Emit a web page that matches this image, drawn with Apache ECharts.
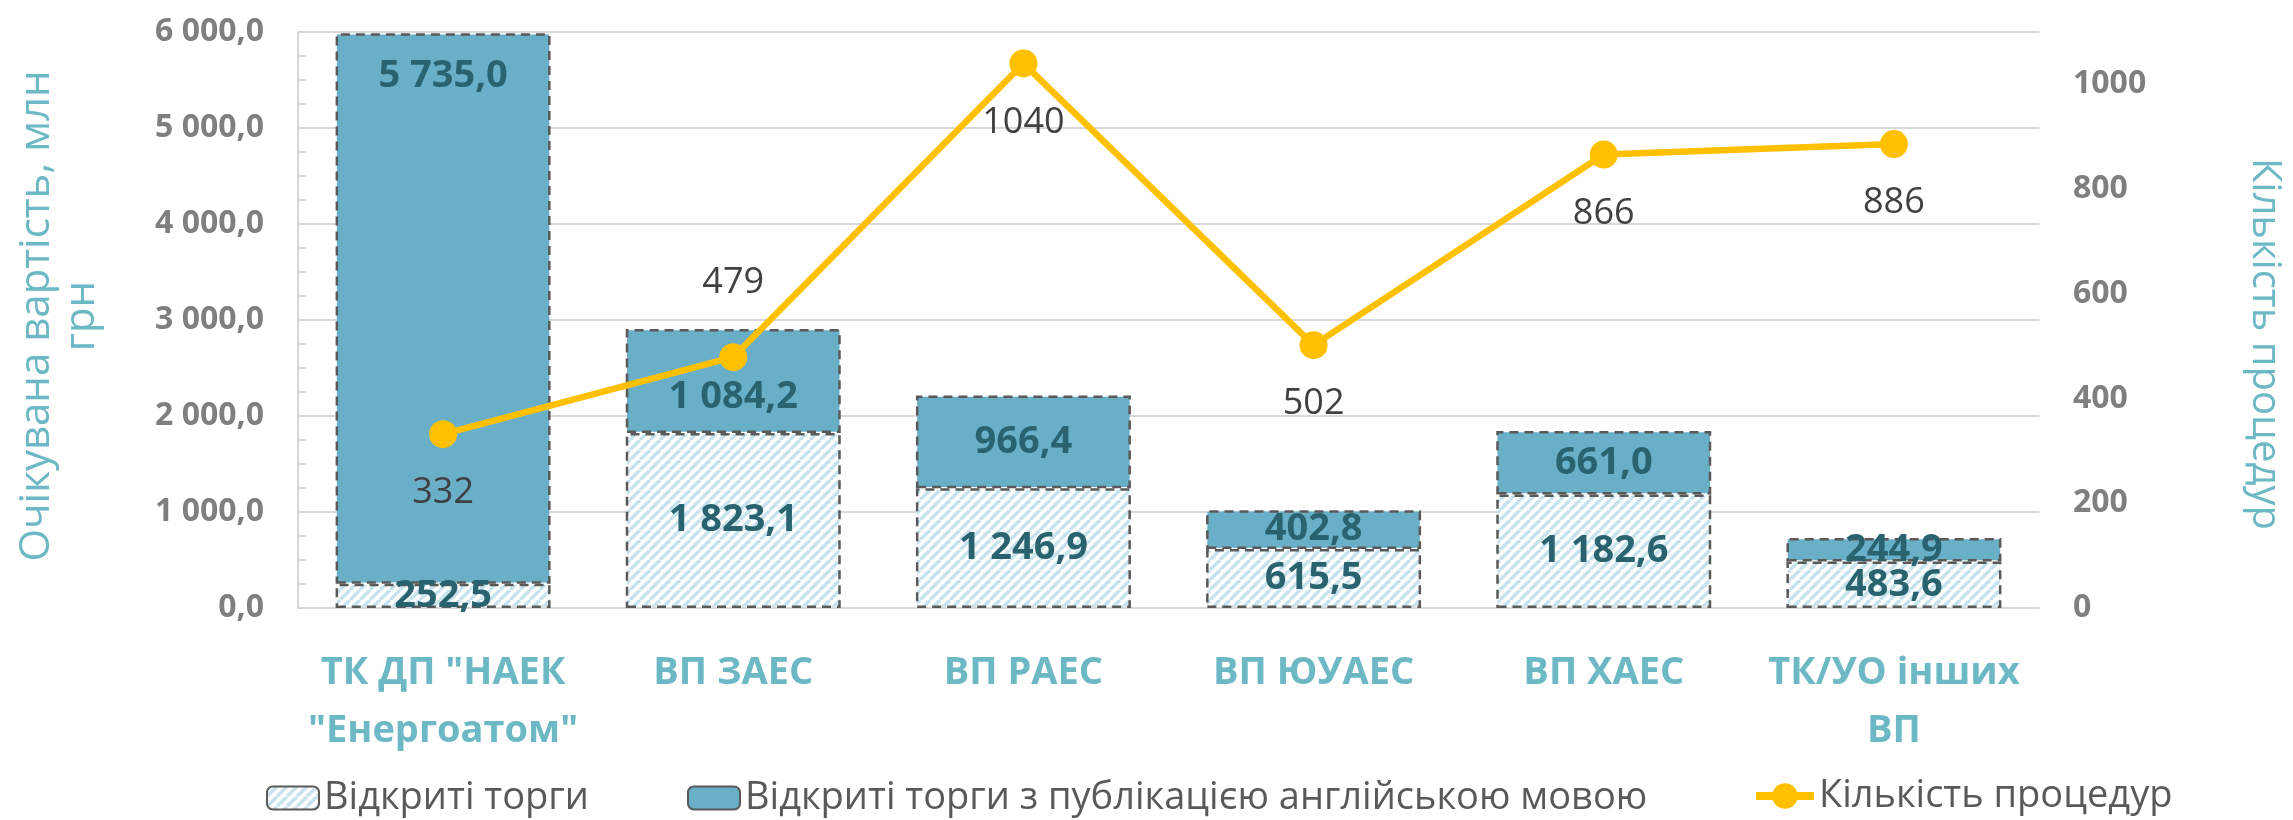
<!DOCTYPE html>
<html>
<head>
<meta charset="utf-8">
<script src="https://cdn.jsdelivr.net/npm/echarts@6/dist/echarts.min.js"></script>
<style>
html,body{margin:0;padding:0;background:#fff;}
#c{width:2293px;height:820px;}
</style>
</head>
<body>
<div id="c"></div>
<script>
const categories = ['ТК ДП "НАЕК\n"Енергоатом"', 'ВП ЗАЕС', 'ВП РАЕС', 'ВП ЮУАЕС', 'ВП ХАЕС', 'ТК/УО інших\nВП'];
const openTenders = [252.5, 1823.1, 1246.9, 615.5, 1182.6, 483.6];
const englishTenders = [5735.0, 1084.2, 966.4, 402.8, 661.0, 244.9];
const procedures = [332, 479, 1040, 502, 866, 886];
const seriesNames = ['Відкриті торги', 'Відкриті торги з публікацією англійською мовою', 'Кількість процедур'];
const leftTitle = 'Очікувана вартість, млн\nгрн';
const rightTitle = 'Кількість процедур';

function fmt(v) {
  const s = Number(v).toFixed(1).split('.');
  const int = s[0].replace(/\B(?=(\d{3})+(?!\d))/g, ' ');
  return int + ',' + s[1];
}

const hatch = document.createElement('canvas');
hatch.width = 10; hatch.height = 10;
(function(){
  const g = hatch.getContext('2d');
  g.fillStyle = '#ffffff'; g.fillRect(0,0,10,10);
  g.strokeStyle = '#c6e2ec'; g.lineWidth = 3.4;
  for (const k of [-10, 0, 10]) {
    g.beginPath(); g.moveTo(k, 10); g.lineTo(k + 10, 0); g.stroke();
  }
})();

const FONT = '"Open Sans", "Noto Sans", sans-serif';
const chart = echarts.init(document.getElementById('c'), null, {renderer: 'canvas'});

const barLabelBase = {show: true, position: 'inside', color: '#2a6370', fontFamily: FONT, fontWeight: 'bold', fontSize: 38, formatter: p => fmt(p.value)};

const topData = englishTenders.map((v, i) => {
  const d = {value: v};
  if (i === 0) d.label = {position: 'insideTop', distance: 24};
  if (i === 1) d.label = {offset: [0, 16]};
  return d;
});
const lineData = procedures.map((v, i) => {
  const d = {value: v};
  if (i === 1) d.label = {offset: [0, -74]};
  return d;
});

const legendCommon = {
  textStyle: {fontFamily: FONT, fontSize: 38, color: '#595959'},
  itemGap: 0
};

chart.setOption({
  animation: false,
  backgroundColor: '#ffffff',
  grid: {left: 298, right: 254, top: 32, bottom: 212, containLabel: false},
  legend: [
    Object.assign({}, legendCommon, {top: 774, left: 261, data: [seriesNames[0]], itemWidth: 52, itemHeight: 23}),
    Object.assign({}, legendCommon, {top: 774, left: 682, data: [seriesNames[1]], itemWidth: 52, itemHeight: 23}),
    Object.assign({}, legendCommon, {top: 772, left: 1747, data: [seriesNames[2]], itemWidth: 58, itemHeight: 32,
      lineStyle: {width: 8}})
  ],
  xAxis: {
    type: 'category',
    data: categories,
    axisLine: {show: true, lineStyle: {color: '#d9d9d9', width: 2}},
    axisTick: {show: false},
    axisLabel: {margin: 36, color: '#6cb8c4', fontFamily: FONT, fontWeight: 'bold', fontSize: 38, lineHeight: 58, interval: 0}
  },
  yAxis: [
    {
      type: 'value', min: 0, max: 6000, interval: 1000,
      axisLine: {show: true, lineStyle: {color: '#d9d9d9', width: 2}},
      axisTick: {show: true, inside: true, length: 8, lineStyle: {color: '#d9d9d9', width: 2}},
      minorTick: {show: true, splitNumber: 4, length: 8, lineStyle: {color: '#d9d9d9', width: 2}},
      splitLine: {show: true, lineStyle: {color: '#d9d9d9', width: 2}},
      axisLabel: {margin: 34, color: '#7f7f7f', fontFamily: FONT, fontWeight: 'bold', fontSize: 32, formatter: v => fmt(v)}
    },
    {
      type: 'value', min: 0, max: 1100, interval: 200, position: 'right',
      axisLine: {show: false}, axisTick: {show: false}, splitLine: {show: false},
      axisLabel: {margin: 34, color: '#7f7f7f', fontFamily: FONT, fontWeight: 'bold', fontSize: 32, formatter: v => (v > 1000 ? '' : String(v))}
    }
  ],
  graphic: [
    {type: 'text', x: 60, y: 316, rotation: Math.PI / 2,
     style: {text: leftTitle, fill: '#6cb8c4', font: '42px ' + FONT, align: 'center', verticalAlign: 'middle', lineHeight: 45}},
    {type: 'text', x: 2264, y: 344, rotation: -Math.PI / 2,
     style: {text: rightTitle, fill: '#6cb8c4', font: '40px ' + FONT, align: 'center', verticalAlign: 'middle'}}
  ],
  series: [
    {
      name: seriesNames[0], type: 'bar', stack: 'v', barWidth: 215,
      data: openTenders,
      itemStyle: {color: {image: hatch, repeat: 'repeat'}, borderColor: '#595959', borderWidth: 2.5, borderType: [9, 6]},
      label: barLabelBase
    },
    {
      name: seriesNames[1], type: 'bar', stack: 'v', barWidth: 215,
      data: topData,
      itemStyle: {color: '#69afc8', borderColor: '#595959', borderWidth: 2.5, borderType: [9, 6]},
      label: barLabelBase
    },
    {
      name: seriesNames[2], type: 'line', yAxisIndex: 1, z: 5,
      data: lineData,
      symbol: 'circle', symbolSize: 28,
      lineStyle: {color: '#ffc000', width: 6.5},
      itemStyle: {color: '#ffc000'},
      label: {show: true, position: 'inside', offset: [0, 59], color: '#404040', fontFamily: FONT, fontSize: 36}
    }
  ]
});
</script>
</body>
</html>
